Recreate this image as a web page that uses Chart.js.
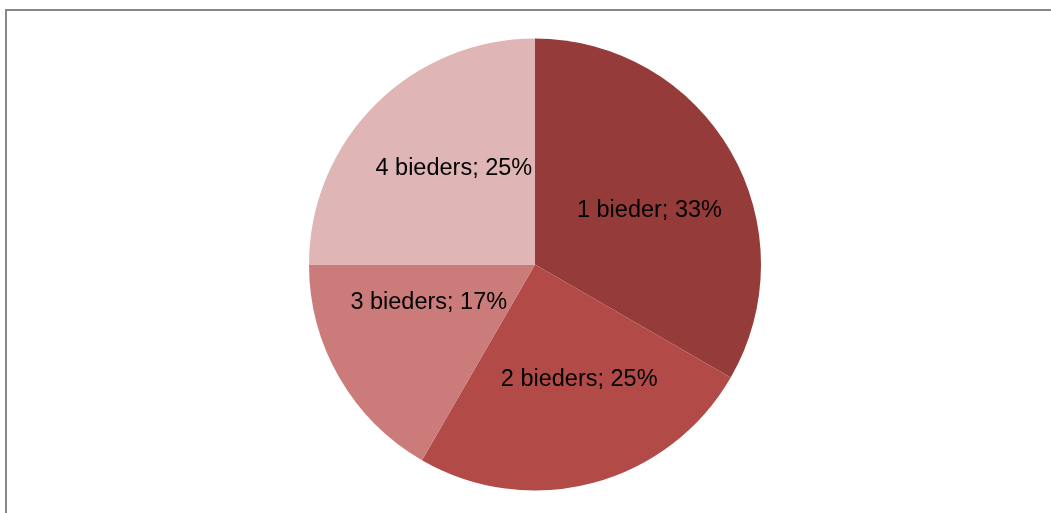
<!DOCTYPE html>
<html>
<head>
<meta charset="utf-8">
<script src="https://cdn.jsdelivr.net/npm/chart.js@4"></script>
<style>
html,body{margin:0;padding:0;background:#fff;}
#wrap{width:1051px;height:513px;position:relative;}
</style>
</head>
<body>
<div id="wrap"><canvas id="c" width="1051" height="513"></canvas></div>
<script>
const categories = ["1 bieder", "2 bieders", "3 bieders", "4 bieders"];
const counts = [4, 3, 2, 3];
const percentLabels = ["33%", "25%", "17%", "25%"];
const sliceColors = ["#953B39", "#B24A48", "#CB7B7A", "#DFB6B5"];

const framePlugin = {
  id: 'frame',
  beforeDraw(chart) {
    const ctx = chart.ctx;
    ctx.save();
    ctx.fillStyle = '#fff';
    ctx.fillRect(0, 0, chart.width, chart.height);
    ctx.strokeStyle = '#888888';
    ctx.lineWidth = 2;
    ctx.strokeRect(6, 10, 1200, 700);
    ctx.restore();
  }
};

const labelPlugin = {
  id: 'sliceLabels',
  afterDatasetsDraw(chart, args, opts) {
    const ctx = chart.ctx;
    const meta = chart.getDatasetMeta(0);
    const fs = opts.fontSize;
    ctx.save();
    ctx.font = fs + 'px "Liberation Sans", Arial, sans-serif';
    ctx.fillStyle = '#000';
    ctx.textAlign = 'center';
    ctx.textBaseline = 'alphabetic';
    meta.data.forEach((arc, i) => {
      const p = arc.getProps(['x','y','startAngle','endAngle','outerRadius'], true);
      const pl = opts.placement[i];
      const mid = (p.startAngle + p.endAngle) / 2 + pl.dAngle * Math.PI / 180;
      const r = p.outerRadius * pl.frac;
      const cx = p.x + Math.cos(mid) * r;
      const cy = p.y + Math.sin(mid) * r;
      const text = categories[i] + '; ' + percentLabels[i];
      ctx.fillText(text, cx, cy + fs * 0.358);
    });
    ctx.restore();
  }
};

new Chart(document.getElementById('c'), {
  type: 'pie',
  data: {
    labels: categories,
    datasets: [{
      data: counts,
      backgroundColor: sliceColors,
      borderWidth: 0,
      hoverOffset: 0,
      offset: 0
    }]
  },
  options: {
    responsive: false,
    animation: false,
    events: [],
    radius: 226,
    layout: { padding: { top: 38, bottom: 22, left: 100, right: 81 } },
    plugins: {
      legend: { display: false },
      tooltip: { enabled: false },
      sliceLabels: {
        fontSize: 23.5,
        placement: [
          { frac: 0.563, dAngle: 4.1 },
          { frac: 0.538, dAngle: -6.3 },
          { frac: 0.496, dAngle: 11.4 },
          { frac: 0.562, dAngle: 5.3 }
        ]
      }
    }
  },
  plugins: [framePlugin, labelPlugin]
});
</script>
</body>
</html>
